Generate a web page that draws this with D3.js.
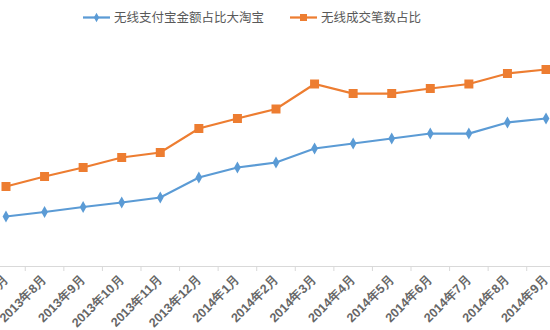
<!DOCTYPE html>
<html>
<head>
<meta charset="utf-8" />
<script src="https://cdn.jsdelivr.net/npm/d3@7/dist/d3.min.js"></script>
<style>
  body { margin: 0; background: #fff; }
  svg { font-family: "Noto Sans CJK SC", "Noto Sans", sans-serif; }
  .axis text { fill: #666; font-size: 12.5px; font-weight: bold; }
  .axis path, .axis line { stroke: #d9d9d9; }
  .legend text { fill: #595959; font-size: 12.5px; }
</style>
</head>
<body>
<div id="chart"></div>
<script>
// Data
var months = ["2013年7月", "2013年8月", "2013年9月", "2013年10月", "2013年11月", "2013年12月",
  "2014年1月", "2014年2月", "2014年3月", "2014年4月", "2014年5月", "2014年6月",
  "2014年7月", "2014年8月", "2014年9月"]
var alipayShare = [9.9, 10.8, 11.8, 12.7, 13.7, 17.7, 19.7, 20.7, 23.5, 24.5, 25.5, 26.5, 26.5, 28.7, 29.5]
var orderShare = [15.9, 17.9, 19.7, 21.7, 22.7, 27.5, 29.5, 31.4, 36.4, 34.5, 34.5, 35.5, 36.4, 38.5, 39.3]
var seriesNames = ["无线支付宝金额占比大淘宝", "无线成交笔数占比"]
var colors = ["#5b9bd5", "#ed7d31"]

var width = 550, height = 330

var svg = d3.select("#chart").append("svg")
  .attr("width", width)
  .attr("height", height)

// Scales
var x = d3.scaleBand()
  .domain(months)
  .range([-13.3, 565.3])

var y = d3.scaleLinear()
  .domain([0, 50])
  .range([266, 16])

// Axis
var xAxis = svg.append("g")
  .attr("class", "axis")
  .attr("transform", "translate(0,266)")
  .call(d3.axisBottom(x).tickSize(0).tickPadding(0))

xAxis.select(".domain").attr("stroke", "#d9d9d9")

xAxis.selectAll(".tick text")
  .attr("text-anchor", "end")
  .attr("transform", "translate(0,11) rotate(-45)")
  .attr("dy", "0.35em")
  .attr("x", 0)
  .attr("y", 0)

// tick marks on band boundaries
svg.append("g")
  .selectAll("line")
  .data(months)
  .join("line")
  .attr("x1", function(d) { return x(d) })
  .attr("x2", function(d) { return x(d) })
  .attr("y1", 266)
  .attr("y2", 271)
  .attr("stroke", "#d9d9d9")

var cx = function(i) { return x(months[i]) + x.bandwidth() / 2 }

var line = d3.line()
  .x(function(d, i) { return cx(i) })
  .y(function(d) { return y(d) })

var diamond = d3.symbol().type(d3.symbolDiamond).size(40)

// Series
;[alipayShare, orderShare].forEach(function(values, s) {
  svg.append("path")
    .datum(values)
    .attr("d", line)
    .attr("fill", "none")
    .attr("stroke", colors[s])
    .attr("stroke-width", 2.25)

  var marks = svg.append("g").selectAll("path")
    .data(values)
    .join("path")
    .attr("fill", colors[s])
    .attr("transform", function(d, i) { return "translate(" + cx(i) + "," + y(d) + ")" })

  if (s === 0) {
    marks.attr("d", diamond)
  } else {
    marks.attr("d", "M-4.5,-4.5H4.5V4.5H-4.5Z")
  }
})

// Legend
var legend = svg.append("g").attr("class", "legend")
var legendX = [83, 290]
seriesNames.forEach(function(name, s) {
  var g = legend.append("g").attr("transform", "translate(" + legendX[s] + ",17.5)")
  g.append("line")
    .attr("x1", 0).attr("x2", 27)
    .attr("stroke", colors[s])
    .attr("stroke-width", 2.25)
  if (s === 0) {
    g.append("path").attr("d", d3.symbol().type(d3.symbolDiamond).size(25))
      .attr("transform", "translate(13.5,0)")
      .attr("fill", colors[s])
  } else {
    g.append("rect").attr("x", 10).attr("y", -3.5).attr("width", 7).attr("height", 7)
      .attr("fill", colors[s])
  }
  g.append("text")
    .attr("x", 31)
    .attr("dy", "0.35em")
    .text(name)
})
</script>
</body>
</html>
